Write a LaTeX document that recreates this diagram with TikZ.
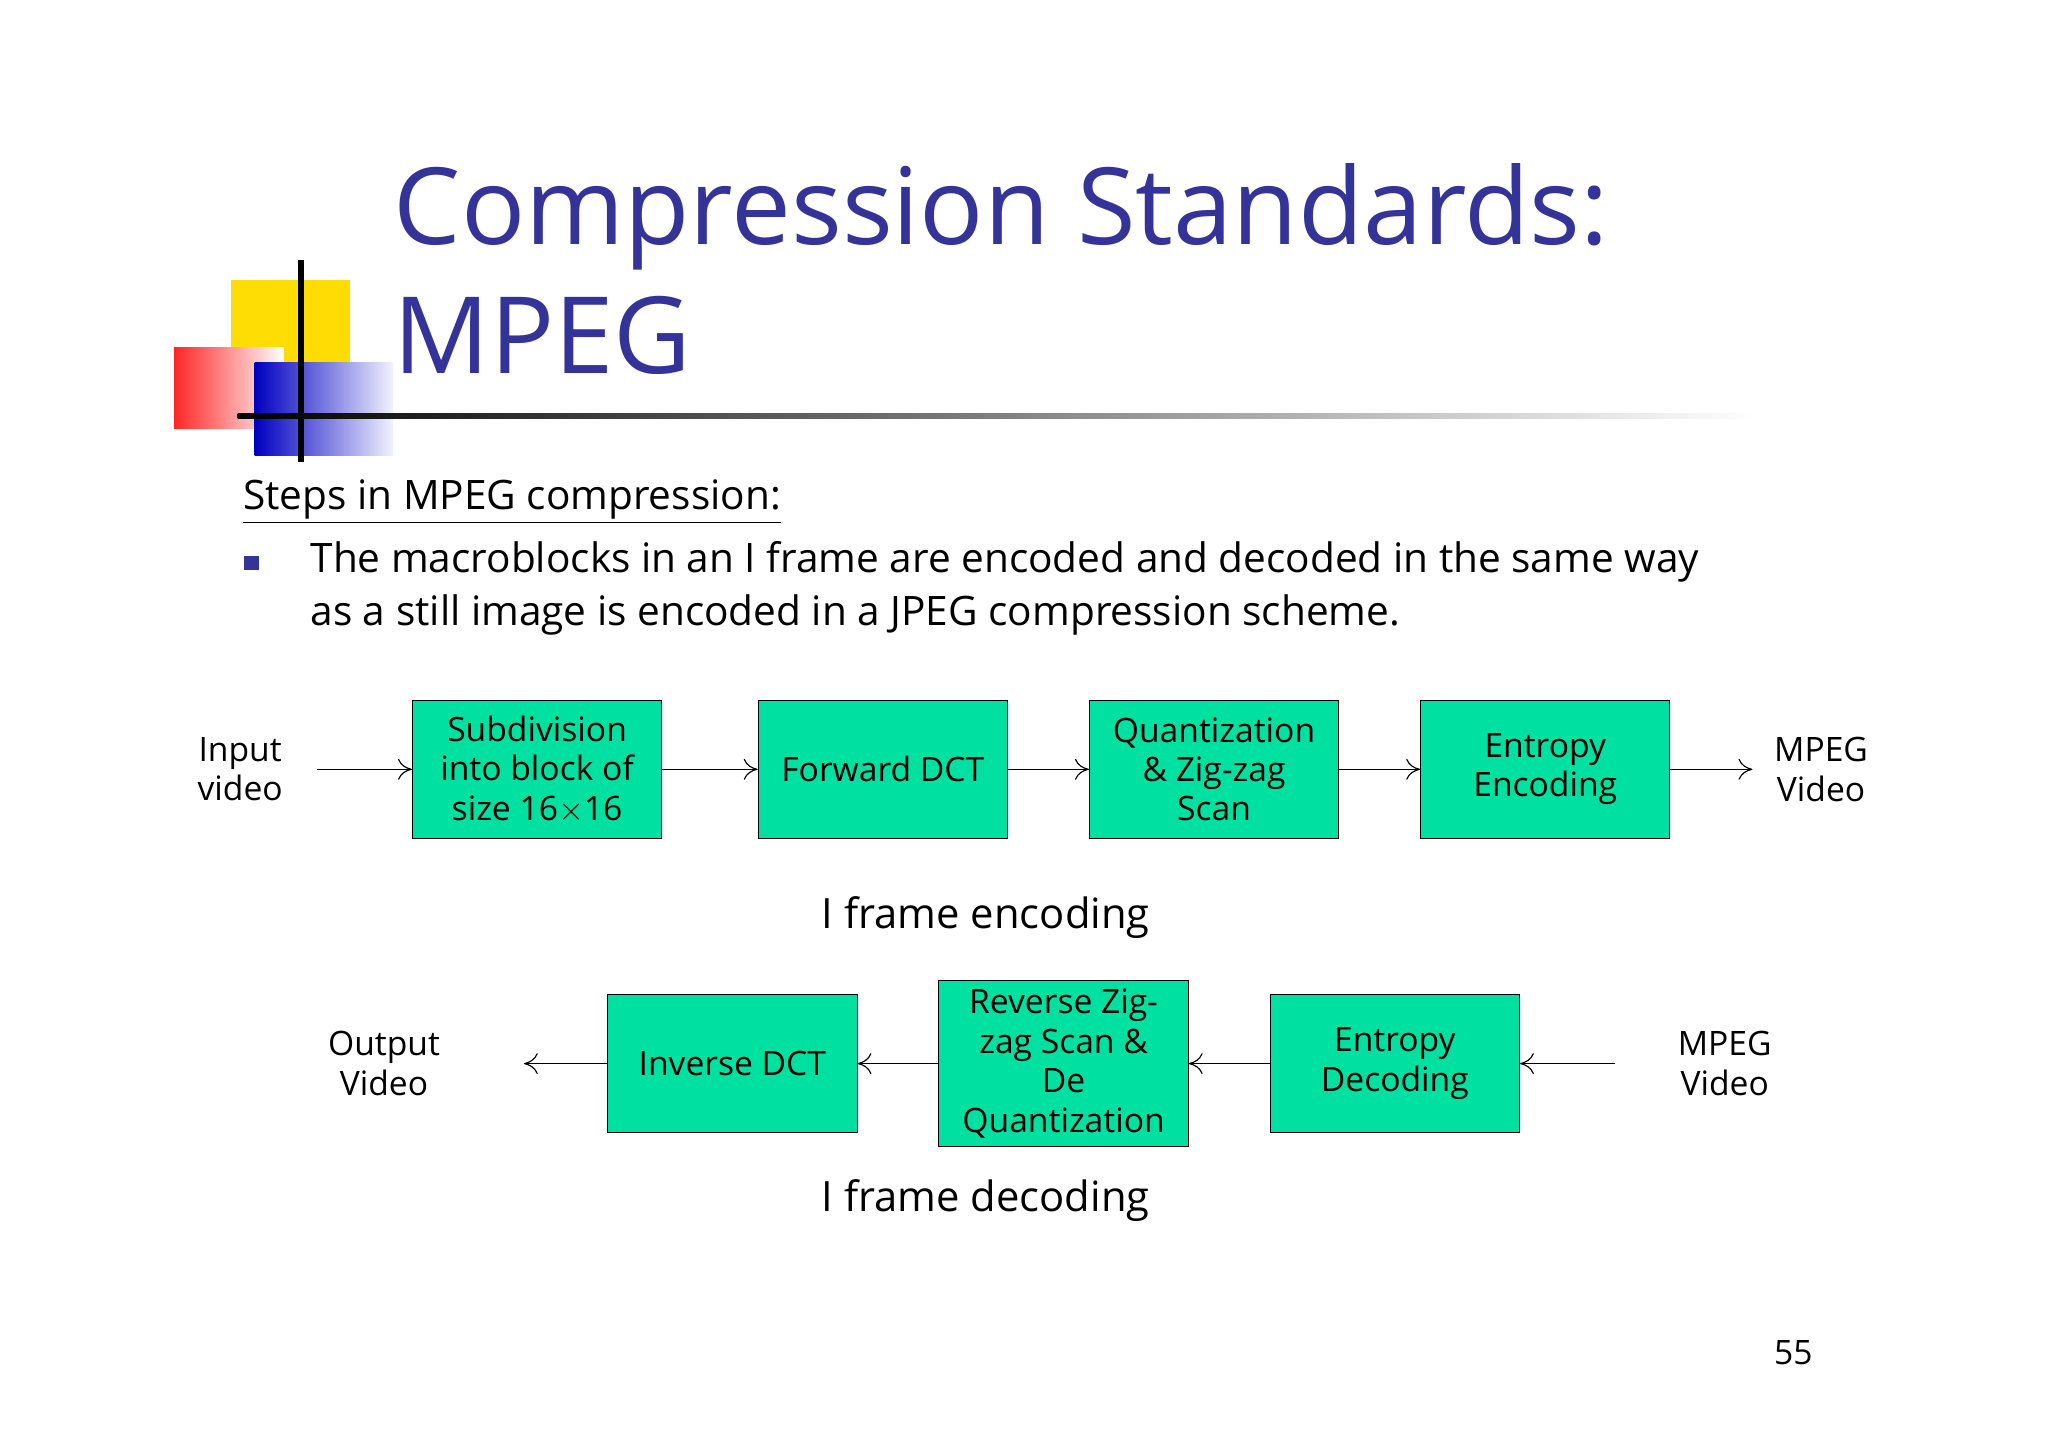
\documentclass[tikz,border=0pt]{standalone}
\usepackage{fontspec}
\setmainfont{Open Sans}
\usetikzlibrary{arrows.meta}
\definecolor{ttl}{RGB}{51,51,153}
\definecolor{boxg}{RGB}{0,224,160}
\begin{document}
\begin{tikzpicture}[x=0.02cm,y=-0.02cm,
  blk/.style={draw=black,fill=boxg,minimum width=3.78cm,minimum height=2.1cm,align=center,font=\fontsize{14.5}{17}\selectfont,inner sep=1pt},
  lbl/.style={align=center,font=\fontsize{14.5}{17}\selectfont},
  arr/.style={-{To[length=6pt,width=9pt]},line width=0.5pt}]
\useasboundingbox (0,0) rectangle (1552,1097);
\fill[white] (0,0) rectangle (1552,1097);
% decoration
\fill[yellow!80!orange] (175,212) rectangle (265,300);
\shade[left color=red!85, right color=white] (132,263) rectangle (215,325);
\shade[left color=blue!75!black, right color=blue!5] (193,275) rectangle (298,345);
\draw[line width=2.5pt] (228,197) -- (228,350);
\shade[left color=black, right color=white] (180,313) rectangle (1330,317);
% title
\node[anchor=base west,text=ttl,font=\fontsize{46}{54}\selectfont,inner sep=0] (t1) at (298,185) {Compression Standards:};
\node[anchor=base west,text=ttl,font=\fontsize{46}{54}\selectfont,inner sep=0] (t2) at (298,283) {MPEG};
\node[anchor=base west,font=\fontsize{17.5}{21}\selectfont,inner sep=0] (st) at (184,386) {\underline{Steps in MPEG compression:}};
\fill[ttl] (185,421) rectangle (196,432);
\node[anchor=base west,font=\fontsize{17.5}{21}\selectfont,inner sep=0] (l1) at (235,434) {The macroblocks in an I frame are encoded and decoded in the same way};
\node[anchor=base west,font=\fontsize{17.5}{21}\selectfont,inner sep=0] (l2) at (235,474) {as a still image is encoded in a JPEG compression scheme.};
% row 1
\node[blk] (a1) at (407,583) {Subdivision\\into block of\\size 16$\times$16};
\node[blk] (a2) at (669,583) {Forward DCT};
\node[blk] (a3) at (920,583) {Quantization\\\& Zig-zag\\Scan};
\node[blk] (a4) at (1171,583) {Entropy\\Encoding};
\node[lbl] (in) at (182,583) {Input\\video};
\node[lbl] (out1) at (1380,583) {MPEG\\Video};
\coordinate (ia) at (240,583);
\coordinate (oa) at (1328,583);
\draw[arr] (ia) -- (a1);
\draw[arr] (a1) -- (a2);
\draw[arr] (a2) -- (a3);
\draw[arr] (a3) -- (a4);
\draw[arr] (a4) -- (oa);
\node[font=\fontsize{18}{22}\selectfont] (enc) at (747,695) {I frame encoding};
% row 2
\node[blk] (b1) at (555,806) {Inverse DCT};
\node[blk,minimum height=2.52cm] (b2) at (806,806) {Reverse Zig-\\zag Scan \&\\De\\Quantization};
\node[blk] (b3) at (1057,806) {Entropy\\Decoding};
\node[lbl] (mv) at (1307,806) {MPEG\\Video};
\node[lbl] (ov) at (291,806) {Output\\Video};
\coordinate (ib) at (1224,806);
\coordinate (ob) at (397,806);
\draw[arr] (ib) -- (b3);
\draw[arr] (b3) -- (b2);
\draw[arr] (b2) -- (b1);
\draw[arr] (b1) -- (ob);
\node[font=\fontsize{18}{22}\selectfont] (dec) at (747,910) {I frame decoding};
\node[font=\fontsize{14.5}{17}\selectfont] (pg) at (1359,1025) {55};
\end{tikzpicture}
\end{document}
